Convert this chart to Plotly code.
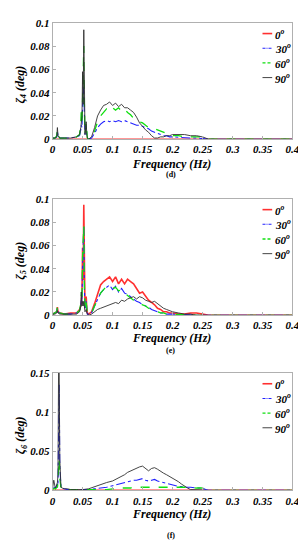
import plotly.graph_objects as go

W, H = 306, 550

# ---------------- data ----------------
series_names = ["0<sup>o</sup>", "30<sup>o</sup>", "60<sup>o</sup>", "90<sup>o</sup>"]
x_ticks = [0, 0.05, 0.1, 0.15, 0.2, 0.25, 0.3, 0.35, 0.4]
x_tick_labels = ["0", "0.05", "0.1", "0.15", "0.2", "0.25", "0.3", "0.35", "0.4"]

y_ticks_d = [0, 0.02, 0.04, 0.06, 0.08, 0.1]
y_labels_d = ["0", "0.02", "0.04", "0.06", "0.08", "0.1"]
y_ticks_e = [0, 0.02, 0.04, 0.06, 0.08, 0.1]
y_labels_e = ["0", "0.02", "0.04", "0.06", "0.08", "0.1"]
y_ticks_f = [0, 0.05, 0.1, 0.15]
y_labels_f = ["0", "0.05", "0.1", "0.15"]

freq_de = [0, 0.004, 0.007, 0.008, 0.009, 0.012, 0.02, 0.03, 0.04, 0.045,
           0.047, 0.048, 0.049, 0.05, 0.051, 0.052, 0.053, 0.054, 0.055, 0.056,
           0.057, 0.058, 0.06, 0.065, 0.07, 0.075, 0.08, 0.085, 0.09, 0.095,
           0.1, 0.105, 0.11, 0.115, 0.12, 0.125, 0.13, 0.135, 0.14, 0.145,
           0.15, 0.155, 0.16, 0.165, 0.17, 0.175, 0.18, 0.185, 0.19, 0.195,
           0.2, 0.21, 0.22, 0.23, 0.24, 0.25, 0.26, 0.4]

# panel (d): zeta_4
d_0 = [0.0] * 58
d_30 = [0.001, 0.001, 0.002, 0.007, 0.003, 0.001, 0.001, 0.001, 0.002, 0.003,
        0.008, 0.012, 0.01, 0.03, 0.045, 0.04, 0.015, 0.004, 0.006, 0.012,
        0.004, 0.001, 0.0, 0.001, 0.005, 0.01, 0.013, 0.015, 0.016, 0.015,
        0.016, 0.015, 0.016, 0.015, 0.016, 0.015, 0.014, 0.013, 0.012, 0.012,
        0.011, 0.01, 0.009, 0.007, 0.006, 0.005, 0.004, 0.003, 0.003, 0.002,
        0.002, 0.0015, 0.0015, 0.001, 0.001, 0.0005, 0, 0]
d_60 = [0.001, 0.001, 0.003, 0.008, 0.003, 0.001, 0.001, 0.001, 0.002, 0.004,
        0.015, 0.027, 0.012, 0.05, 0.07, 0.08, 0.03, 0.005, 0.008, 0.014,
        0.005, 0.001, 0.0, 0.002, 0.007, 0.015, 0.02, 0.023, 0.026, 0.024,
        0.027, 0.025, 0.027, 0.024, 0.026, 0.023, 0.021, 0.018, 0.016, 0.015,
        0.014, 0.012, 0.01, 0.01, 0.009, 0.008, 0.007, 0.006, 0.005, 0.004,
        0.003, 0.003, 0.002, 0.002, 0.002, 0.002, 0, 0]
d_90 = [0.001, 0.001, 0.002, 0.01, 0.003, 0.001, 0.001, 0.001, 0.002, 0.004,
        0.01, 0.015, 0.02, 0.058, 0.03, 0.094, 0.02, 0.004, 0.01, 0.015,
        0.004, 0.001, 0.0, 0.002, 0.01, 0.02, 0.025, 0.029, 0.03, 0.032,
        0.029, 0.031, 0.028, 0.03, 0.027, 0.027, 0.025, 0.023, 0.019, 0.014,
        0.011, 0.008, 0.006, 0.003, 0.001, 0.001, 0.002, 0.002, 0.003, 0.003,
        0.004, 0.004, 0.004, 0.003, 0.003, 0.002, 0, 0]

# panel (e): zeta_5
e_0 = [0.001, 0.002, 0.003, 0.007, 0.003, 0.002, 0.001, 0.002, 0.002, 0.005,
       0.008, 0.012, 0.02, 0.058, 0.03, 0.095, 0.03, 0.006, 0.012, 0.016,
       0.006, 0.002, 0.001, 0.003, 0.01, 0.019, 0.026, 0.029, 0.031, 0.033,
       0.029, 0.033, 0.027, 0.031, 0.027, 0.031, 0.029, 0.027, 0.023, 0.019,
       0.02, 0.017, 0.013, 0.011, 0.009, 0.006, 0.005, 0.003, 0.003, 0.002,
       0.002, 0.001, 0.001, 0.002, 0.002, 0.001, 0, 0]
e_30 = [0.001, 0.002, 0.003, 0.006, 0.003, 0.002, 0.001, 0.001, 0.002, 0.004,
        0.008, 0.015, 0.012, 0.045, 0.06, 0.076, 0.025, 0.005, 0.008, 0.012,
        0.004, 0.001, 0.001, 0.002, 0.008, 0.014, 0.019, 0.022, 0.024, 0.026,
        0.022, 0.025, 0.02, 0.023, 0.019, 0.018, 0.016, 0.014, 0.012, 0.011,
        0.009, 0.008, 0.007, 0.005, 0.004, 0.003, 0.002, 0.002, 0.001, 0.001,
        0.001, 0.001, 0.0005, 0.0005, 0, 0, 0, 0]
e_60 = [0.001, 0.002, 0.003, 0.008, 0.003, 0.002, 0.001, 0.001, 0.002, 0.004,
        0.01, 0.02, 0.012, 0.05, 0.065, 0.077, 0.028, 0.005, 0.008, 0.011,
        0.004, 0.001, 0.001, 0.002, 0.008, 0.014, 0.019, 0.022, 0.025, 0.024,
        0.023, 0.024, 0.021, 0.022, 0.019, 0.017, 0.015, 0.013, 0.012, 0.01,
        0.009, 0.008, 0.006, 0.005, 0.004, 0.003, 0.002, 0.002, 0.001, 0.001,
        0.001, 0.001, 0.0005, 0.0005, 0, 0, 0, 0]
e_90 = [0.001, 0.001, 0.002, 0.004, 0.002, 0.001, 0.001, 0.001, 0.001, 0.003,
        0.008, 0.02, 0.008, 0.012, 0.008, 0.012, 0.005, 0.003, 0.004, 0.005,
        0.002, 0.001, 0.0, 0.001, 0.003, 0.005, 0.006, 0.007, 0.008, 0.009,
        0.01, 0.011, 0.01, 0.013, 0.012, 0.014, 0.015, 0.016, 0.014, 0.016,
        0.015, 0.013, 0.012, 0.011, 0.012, 0.01, 0.008, 0.006, 0.005, 0.004,
        0.003, 0.002, 0.001, 0.001, 0, 0, 0, 0]

# panel (f): zeta_6
freq_f = [0, 0.002, 0.004, 0.005, 0.006, 0.008, 0.009, 0.01, 0.011, 0.012,
          0.013, 0.014, 0.016, 0.02, 0.025, 0.03, 0.04, 0.05, 0.06, 0.07,
          0.08, 0.09, 0.1, 0.105, 0.11, 0.115, 0.12, 0.125, 0.13, 0.135,
          0.14, 0.145, 0.15, 0.155, 0.16, 0.165, 0.17, 0.175, 0.18, 0.185,
          0.19, 0.195, 0.2, 0.205, 0.21, 0.215, 0.22, 0.225, 0.23, 0.24,
          0.25, 0.255, 0.26, 0.4]
f_0 = [0.0] * 54
f_30 = [0.002, 0.003, 0.004, 0.003, 0.005, 0.008, 0.006, 0.05, 0.135, 0.03,
        0.006, 0.004, 0.002, 0.002, 0.001, 0.001, 0.001, 0.001, 0.001, 0.002,
        0.003, 0.004, 0.006, 0.007, 0.008, 0.009, 0.01, 0.011, 0.012, 0.013,
        0.013, 0.014, 0.015, 0.013, 0.012, 0.013, 0.014, 0.012, 0.011, 0.01,
        0.009, 0.008, 0.007, 0.006, 0.005, 0.005, 0.004, 0.004, 0.004, 0.003,
        0.003, 0.001, 0, 0]
f_60 = [0.002, 0.002, 0.003, 0.002, 0.003, 0.004, 0.01, 0.03, 0.04, 0.015,
        0.004, 0.003, 0.001, 0.001, 0.001, 0.001, 0.0005, 0.0005, 0.0005, 0.001,
        0.001, 0.001, 0.002, 0.002, 0.002, 0.003, 0.003, 0.003, 0.003, 0.004,
        0.004, 0.004, 0.004, 0.004, 0.004, 0.004, 0.004, 0.004, 0.004, 0.004,
        0.004, 0.004, 0.004, 0.004, 0.004, 0.004, 0.004, 0.004, 0.004, 0.003,
        0.003, 0.001, 0, 0]
f_90 = [0.003, 0.013, 0.005, 0.003, 0.005, 0.01, 0.02, 0.16, 0.15, 0.04,
        0.008, 0.004, 0.003, 0.002, 0.002, 0.001, 0.001, 0.001, 0.002, 0.005,
        0.007, 0.01, 0.012, 0.014, 0.015, 0.018, 0.02, 0.023, 0.025, 0.027,
        0.028, 0.03, 0.031, 0.028, 0.025, 0.028, 0.029, 0.027, 0.024, 0.022,
        0.02, 0.018, 0.016, 0.013, 0.011, 0.008, 0.005, 0.003, 0.001, 0.001,
        0.0005, 0, 0, 0]

panels = [
    dict(freq=freq_de, ys=[d_0, d_30, d_60, d_90], idx="4", lab="(d)",
         yr=[0, 0.1], yt=y_ticks_d, yl=y_labels_d, top=9, bot=128,
         xt=153, lt=164),
    dict(freq=freq_de, ys=[e_0, e_30, e_60, e_90], idx="5", lab="(e)",
         yr=[0, 0.1], yt=y_ticks_e, yl=y_labels_e, top=189, bot=308,
         xt=331, lt=344),
    dict(freq=freq_f, ys=[f_0, f_30, f_60, f_90], idx="6", lab="(f)",
         yr=[0, 0.15], yt=y_ticks_f, yl=y_labels_f, top=367, bot=487,
         xt=511, lt=533),
]

styles = [
    dict(color="#ff3030", width=1.6, dash="solid"),
    dict(color="#2020ff", width=1.1, dash="dashdot"),
    dict(color="#10e010", width=1.3, dash="dash"),
    dict(color="#303030", width=0.9, dash="solid"),
]
legend_dash = ["solid", "3px,1px,1px,1px", "3px,2px", "solid"]

FONT = "Liberation Serif, Times New Roman, serif"
XL, XR = 43, 291
LEG_OFF = [11, 26, 41, 56]

fig = go.Figure()
layout = dict(
    width=W, height=H, margin=dict(l=0, r=0, t=0, b=0),
    paper_bgcolor="white", plot_bgcolor="white", showlegend=False,
    font=dict(family=FONT, color="black"),
)
annotations = []
shapes = []

def bi(size):
    return dict(family=FONT, size=size, weight="bold", style="italic", color="black")

for i, p in enumerate(panels):
    n = "" if i == 0 else str(i + 1)
    for j, (yv, st) in enumerate(zip(p["ys"], styles)):
        fig.add_trace(go.Scatter(
            x=p["freq"], y=yv, mode="lines", name=series_names[j],
            line=dict(color=st["color"], width=st["width"], dash=st["dash"]),
            xaxis="x" + n, yaxis="y" + n,
        ))
        # legend entry (drawn in paper coordinates)
        yy = 1 - (p["top"] + LEG_OFF[j]) / H
        shapes.append(dict(type="line", xref="paper", yref="paper",
                           x0=260 / W, x1=270 / W, y0=yy, y1=yy,
                           line=dict(color=st["color"], width=st["width"],
                                     dash=legend_dash[j])))
        annotations.append(dict(text=series_names[j], x=271 / W, y=yy,
                                xref="paper", yref="paper", showarrow=False,
                                xanchor="left", yanchor="middle", font=bi(11)))
    ydom = [1 - p["bot"] / H, 1 - p["top"] / H]
    axcommon = dict(showline=True, linecolor="#b0b0b0", linewidth=1, mirror=True,
                    ticks="inside", ticklen=3, tickcolor="#b0b0b0",
                    showgrid=False, zeroline=False, tickfont=bi(11))
    layout["xaxis" + n] = dict(axcommon, domain=[XL / W, XR / W], range=[0, 0.4],
                               tickvals=x_ticks, ticktext=x_tick_labels,
                               anchor="y" + n)
    layout["yaxis" + n] = dict(axcommon, domain=ydom, range=p["yr"],
                               tickvals=p["yt"], ticktext=p["yl"],
                               anchor="x" + n)
    annotations.append(dict(
        text="ζ<sub>" + p["idx"] + "</sub> (deg)", textangle=-90,
        x=10 / W, y=1 - ((p["top"] + p["bot"]) / 2 + 4) / H, xref="paper", yref="paper",
        showarrow=False, xanchor="center", yanchor="middle", font=bi(12)))
    annotations.append(dict(
        text="Frequency (Hz)", x=166 / W, y=1 - p["xt"] / H,
        xref="paper", yref="paper", showarrow=False,
        xanchor="center", yanchor="middle", font=bi(12)))
    annotations.append(dict(
        text=p["lab"], x=165 / W, y=1 - p["lt"] / H,
        xref="paper", yref="paper", showarrow=False,
        xanchor="center", yanchor="middle",
        font=dict(family=FONT, size=8, weight="bold", color="black")))

layout["annotations"] = annotations
layout["shapes"] = shapes
fig.update_layout(**layout)
fig.write_html("out.html")
